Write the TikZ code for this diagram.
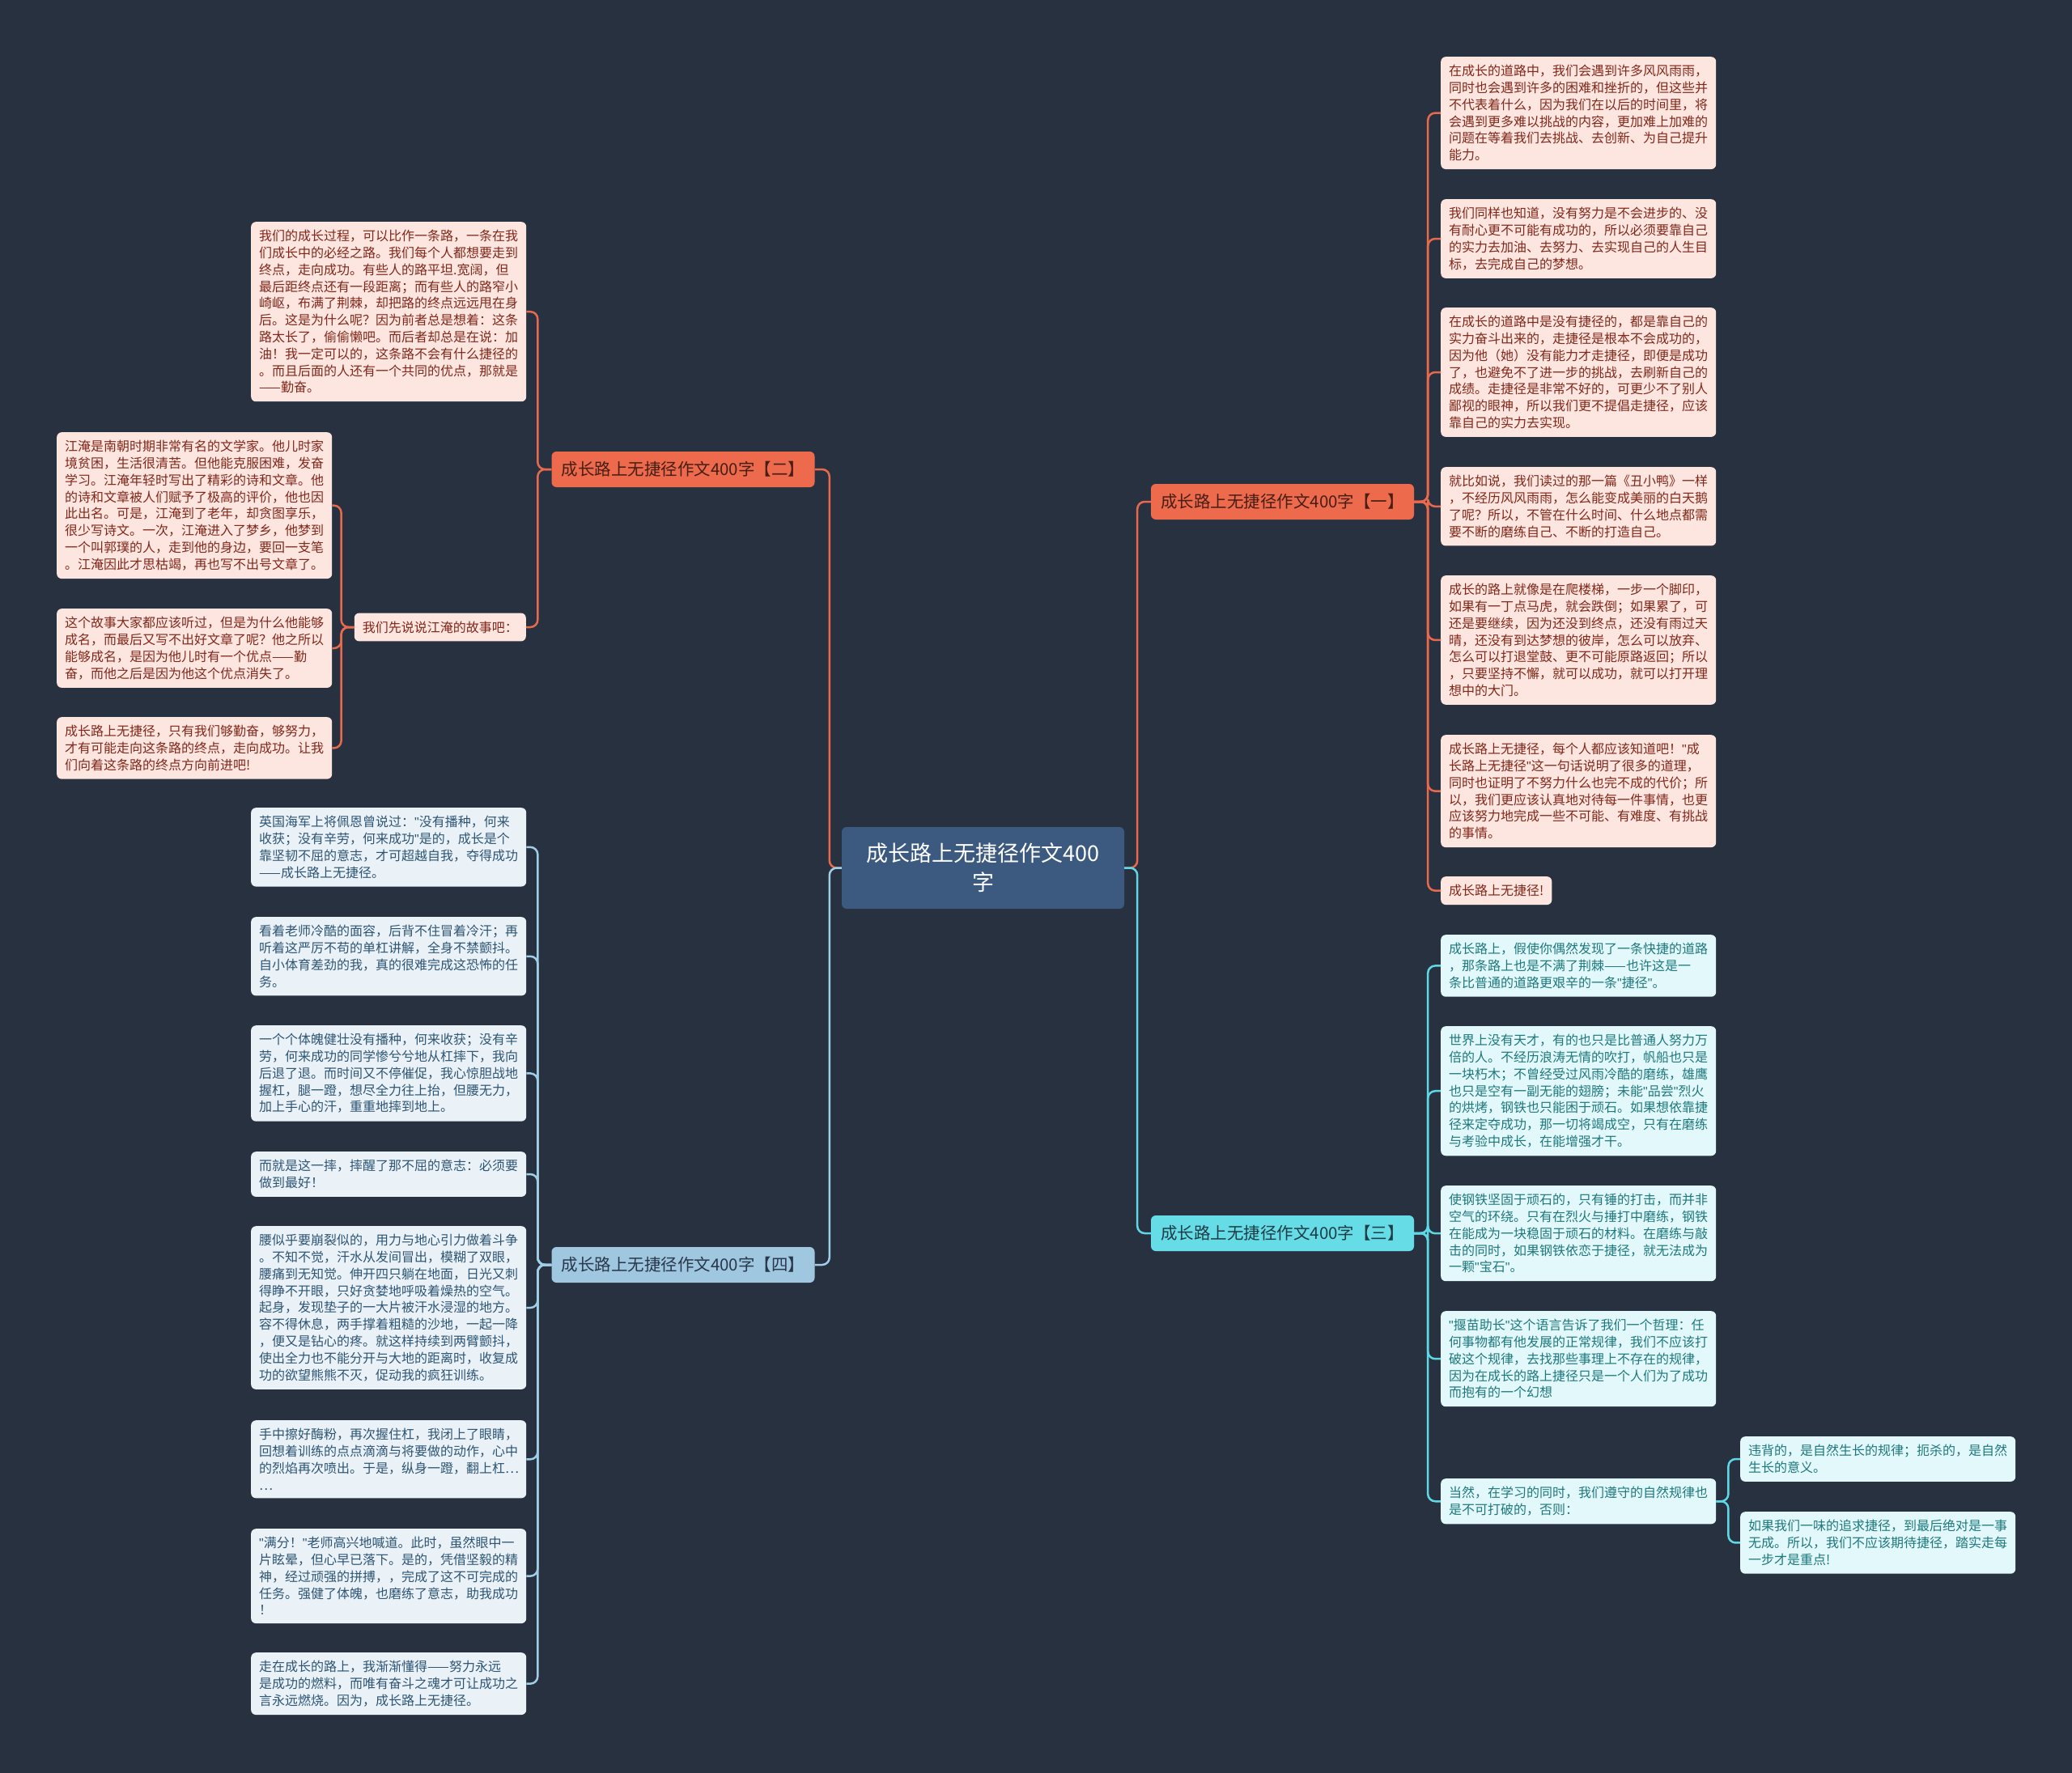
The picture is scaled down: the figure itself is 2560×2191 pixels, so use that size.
\documentclass[tikz,border=0pt]{standalone}
\usepackage{fontspec}
\setmainfont{Noto Sans CJK SC}
\newfontfamily\latinf{Liberation Sans}
\newcommand\dq{{\latinf"}}
\definecolor{bg}{RGB}{40,49,64}
\definecolor{cfill}{RGB}{60,90,128}
\definecolor{orng}{RGB}{237,106,76}
\definecolor{cyanb}{RGB}{102,221,230}
\definecolor{lblue}{RGB}{160,199,224}
\definecolor{pinkfill}{RGB}{253,229,224}
\definecolor{pinktext}{RGB}{128,40,26}
\definecolor{bluefill}{RGB}{234,242,248}
\definecolor{bluetext}{RGB}{45,85,115}
\definecolor{cyanfill}{RGB}{226,248,250}
\definecolor{cyantext}{RGB}{30,120,125}
\definecolor{olabtext}{RGB}{70,30,20}
\definecolor{blabtext}{RGB}{40,55,75}
\definecolor{clabtext}{RGB}{30,60,70}
\definecolor{oline}{RGB}{232,105,78}
\definecolor{bline}{RGB}{160,205,232}
\definecolor{cline}{RGB}{95,215,228}
\begin{document}
\begin{tikzpicture}[x=1pt,y=-1pt,
  leaf/.style={rounded corners=6pt, inner xsep=10pt, inner ysep=10pt, align=left,
    font=\fontsize{16}{20.8}\selectfont, anchor=north west},
  wide/.style={text width=320pt},
  pinkbox/.style={leaf, fill=pinkfill, text=pinktext},
  bluebox/.style={leaf, fill=bluefill, text=bluetext},
  cyanbox/.style={leaf, fill=cyanfill, text=cyantext},
  branchlab/.style={rounded corners=6pt, minimum width=325pt, minimum height=44pt,
    inner sep=0pt, font=\fontsize{20.5}{24}\selectfont},
  conn/.style={line width=2.5pt, rounded corners=9pt},
  oc/.style={conn, draw=oline},
  bc/.style={conn, draw=bline},
  cc/.style={conn, draw=cline}]
\fill[bg] (0,0) rectangle (2560,2191);
\useasboundingbox (0,0) rectangle (2560,2191);

% center
\node[rounded corners=6pt, fill=cfill, text=white, align=center, minimum width=349pt,
  minimum height=101pt, font=\fontsize{27}{36}\selectfont] (c) at (1214.5,1072.5)
  {成长路上无捷径作文400\\字};

% branches
\node[branchlab, fill=orng, text=olabtext] (b1) at (1584.5,620) {成长路上无捷径作文400字【一】};
\node[branchlab, fill=orng, text=olabtext] (b2) at (844,580) {成长路上无捷径作文400字【二】};
\node[branchlab, fill=cyanb, text=clabtext] (b3) at (1584.5,1524) {成长路上无捷径作文400字【三】};
\node[branchlab, fill=lblue, text=blabtext] (b4) at (844,1563) {成长路上无捷径作文400字【四】};

% branch 1 leaves
\node[pinkbox, wide] (r1) at (1780,70) {在成长的道路中，我们会遇到许多风风雨雨，\\同时也会遇到许多的困难和挫折的，但这些并\\不代表着什么，因为我们在以后的时间里，将\\会遇到更多难以挑战的内容，更加难上加难的\\问题在等着我们去挑战、去创新、为自己提升\\能力。};
\node[pinkbox, wide] (r2) at (1780,246) {我们同样也知道，没有努力是不会进步的、没\\有耐心更不可能有成功的，所以必须要靠自己\\的实力去加油、去努力、去实现自己的人生目\\标，去完成自己的梦想。};
\node[pinkbox, wide] (r3) at (1780,380) {在成长的道路中是没有捷径的，都是靠自己的\\实力奋斗出来的，走捷径是根本不会成功的，\\因为他（她）没有能力才走捷径，即便是成功\\了，也避免不了进一步的挑战，去刷新自己的\\成绩。走捷径是非常不好的，可更少不了别人\\鄙视的眼神，所以我们更不提倡走捷径，应该\\靠自己的实力去实现。};
\node[pinkbox, wide] (r4) at (1780,577) {就比如说，我们读过的那一篇《丑小鸭》一样\\，不经历风风雨雨，怎么能变成美丽的白天鹅\\了呢？所以，不管在什么时间、什么地点都需\\要不断的磨练自己、不断的打造自己。};
\node[pinkbox, wide] (r5) at (1780,711) {成长的路上就像是在爬楼梯，一步一个脚印，\\如果有一丁点马虎，就会跌倒；如果累了，可\\还是要继续，因为还没到终点，还没有雨过天\\晴，还没有到达梦想的彼岸，怎么可以放弃、\\怎么可以打退堂鼓、更不可能原路返回；所以\\，只要坚持不懈，就可以成功，就可以打开理\\想中的大门。};
\node[pinkbox, wide] (r6) at (1780,908) {成长路上无捷径，每个人都应该知道吧！\dq 成\\长路上无捷径\dq 这一句话说明了很多的道理，\\同时也证明了不努力什么也完不成的代价；所\\以，我们更应该认真地对待每一件事情，也更\\应该努力地完成一些不可能、有难度、有挑战\\的事情。};
\node[pinkbox] (r7) at (1780,1083) {成长路上无捷径!};

% branch 3 leaves
\node[cyanbox, wide] (s1) at (1780,1155) {成长路上，假使你偶然发现了一条快捷的道路\\，那条路上也是不满了荆棘——也许这是一\\条比普通的道路更艰辛的一条\dq 捷径\dq 。};
\node[cyanbox, wide] (s2) at (1780,1268) {世界上没有天才，有的也只是比普通人努力万\\倍的人。不经历浪涛无情的吹打，帆船也只是\\一块朽木；不曾经受过风雨冷酷的磨练，雄鹰\\也只是空有一副无能的翅膀；未能\dq 品尝\dq 烈火\\的烘烤，钢铁也只能困于顽石。如果想依靠捷\\径来定夺成功，那一切将竭成空，只有在磨练\\与考验中成长，在能增强才干。};
\node[cyanbox, wide] (s3) at (1780,1465) {使钢铁坚固于顽石的，只有锤的打击，而并非\\空气的环绕。只有在烈火与捶打中磨练，钢铁\\在能成为一块稳固于顽石的材料。在磨练与敲\\击的同时，如果钢铁依恋于捷径，就无法成为\\一颗\dq 宝石\dq 。};
\node[cyanbox, wide] (s4) at (1780,1620) {\dq 揠苗助长\dq 这个语言告诉了我们一个哲理：任\\何事物都有他发展的正常规律，我们不应该打\\破这个规律，去找那些事理上不存在的规律，\\因为在成长的路上捷径只是一个人们为了成功\\而抱有的一个幻想};
\node[cyanbox, wide] (s5) at (1780,1827) {当然，在学习的同时，我们遵守的自然规律也\\是不可打破的，否则：};
\node[cyanbox, wide] (t1) at (2150,1775) {违背的，是自然生长的规律；扼杀的，是自然\\生长的意义。};
\node[cyanbox, wide] (t2) at (2150,1868) {如果我们一味的追求捷径，到最后绝对是一事\\无成。所以，我们不应该期待捷径，踏实走每\\一步才是重点!};

% branch 2 leaves
\node[pinkbox, wide] (a) at (310,274) {我们的成长过程，可以比作一条路，一条在我\\们成长中的必经之路。我们每个人都想要走到\\终点，走向成功。有些人的路平坦.宽阔，但\\最后距终点还有一段距离；而有些人的路窄小\\崎岖，布满了荆棘，却把路的终点远远甩在身\\后。这是为什么呢？因为前者总是想着：这条\\路太长了，偷偷懒吧。而后者却总是在说：加\\油！我一定可以的，这条路不会有什么捷径的\\。而且后面的人还有一个共同的优点，那就是\\——勤奋。};
\node[pinkbox, anchor=east] (j) at (650,775) {我们先说说江淹的故事吧：};
\node[pinkbox, wide] (pb) at (70,534) {江淹是南朝时期非常有名的文学家。他儿时家\\境贫困，生活很清苦。但他能克服困难，发奋\\学习。江淹年轻时写出了精彩的诗和文章。他\\的诗和文章被人们赋予了极高的评价，他也因\\此出名。可是，江淹到了老年，却贪图享乐，\\很少写诗文。一次，江淹进入了梦乡，他梦到\\一个叫郭璞的人，走到他的身边，要回一支笔\\。江淹因此才思枯竭，再也写不出号文章了。};
\node[pinkbox, wide] (pc) at (70,752) {这个故事大家都应该听过，但是为什么他能够\\成名，而最后又写不出好文章了呢？他之所以\\能够成名，是因为他儿时有一个优点——勤\\奋，而他之后是因为他这个优点消失了。};
\node[pinkbox, wide] (pd) at (70,886) {成长路上无捷径，只有我们够勤奋，够努力，\\才有可能走向这条路的终点，走向成功。让我\\们向着这条路的终点方向前进吧!};

% branch 4 leaves
\node[bluebox, wide] (l1) at (310,998) {英国海军上将佩恩曾说过：\dq 没有播种，何来\\收获；没有辛劳，何来成功\dq 是的，成长是个\\靠坚韧不屈的意志，才可超越自我，夺得成功\\——成长路上无捷径。};
\node[bluebox, wide] (l2) at (310,1133) {看着老师冷酷的面容，后背不住冒着冷汗；再\\听着这严厉不苟的单杠讲解，全身不禁颤抖。\\自小体育差劲的我，真的很难完成这恐怖的任\\务。};
\node[bluebox, wide] (l3) at (310,1267) {一个个体魄健壮没有播种，何来收获；没有辛\\劳，何来成功的同学惨兮兮地从杠摔下，我向\\后退了退。而时间又不停催促，我心惊胆战地\\握杠，腿一蹬，想尽全力往上抬，但腰无力，\\加上手心的汗，重重地摔到地上。};
\node[bluebox, wide] (l4) at (310,1423) {而就是这一摔，摔醒了那不屈的意志：必须要\\做到最好！};
\node[bluebox, wide] (l5) at (310,1515) {腰似乎要崩裂似的，用力与地心引力做着斗争\\。不知不觉，汗水从发间冒出，模糊了双眼，\\腰痛到无知觉。伸开四只躺在地面，日光又刺\\得睁不开眼，只好贪婪地呼吸着燥热的空气。\\起身，发现垫子的一大片被汗水浸湿的地方。\\容不得休息，两手撑着粗糙的沙地，一起一降\\，便又是钻心的疼。就这样持续到两臂颤抖，\\使出全力也不能分开与大地的距离时，收复成\\功的欲望熊熊不灭，促动我的疯狂训练。};
\node[bluebox, wide] (l6) at (310,1755) {手中擦好酶粉，再次握住杠，我闭上了眼睛，\\回想着训练的点点滴滴与将要做的动作，心中\\的烈焰再次喷出。于是，纵身一蹬，翻上杠…\\…};
\node[bluebox, wide] (l7) at (310,1889) {\dq 满分！\dq 老师高兴地喊道。此时，虽然眼中一\\片眩晕，但心早已落下。是的，凭借坚毅的精\\神，经过顽强的拼搏，，完成了这不可完成的\\任务。强健了体魄，也磨练了意志，助我成功\\！};
\node[bluebox, wide] (l8) at (310,2042) {走在成长的路上，我渐渐懂得——努力永远\\是成功的燃料，而唯有奋斗之魂才可让成功之\\言永远燃烧。因为，成长路上无捷径。};

% center connectors
\draw[oc] (c.west) -- ++(-15,0) |- (b2.east);
\draw[bc] (c.west) -- ++(-15,0) |- (b4.east);
\draw[oc] (c.east) -- ++(16,0) |- (b1.west);
\draw[cc] (c.east) -- ++(16,0) |- (b3.west);

% branch 1
\foreach \n in {r1,r2,r3,r4,r5,r6,r7} \draw[oc] (b1.east) -- ++(17,0) |- (\n.west);
% branch 3
\foreach \n in {s1,s2,s3,s4,s5} \draw[cc] (b3.east) -- ++(17,0) |- (\n.west);
\foreach \n in {t1,t2} \draw[cc] (s5.east) -- ++(15,0) |- (\n.west);
% branch 2
\foreach \n in {a,j} \draw[oc] (b2.west) -- ++(-17,0) |- (\n.east);
\foreach \n in {pb,pc,pd} \draw[oc] (j.west) -- ++(-16,0) |- (\n.east);
% branch 4
\foreach \n in {l1,l2,l3,l4,l5,l6,l7,l8} \draw[bc] (b4.west) -- ++(-17,0) |- (\n.east);
\end{tikzpicture}
\end{document}
